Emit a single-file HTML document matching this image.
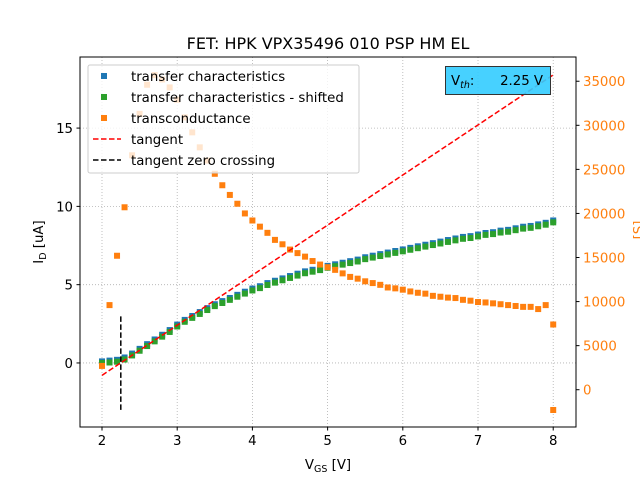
<!DOCTYPE html>
<html><head><meta charset="utf-8"><style>
html,body{margin:0;padding:0;background:#fff;}
svg{display:block;font-family:"DejaVu Sans","Liberation Sans",sans-serif;}
</style></head><body>
<svg id="chart" width="640" height="480" viewBox="0 0 640 480" xmlns="http://www.w3.org/2000/svg"></svg>
<script>
const vgs = [2.0,2.1,2.2,2.3,2.4,2.5,2.6,2.7,2.8,2.9,3.0,3.1,3.2,3.3,3.4,3.5,3.6,3.7,3.8,3.9,4.0,4.1,4.2,4.3,4.4,4.5,4.6,4.7,4.8,4.9,5.0,5.1,5.2,5.3,5.4,5.5,5.6,5.7,5.8,5.9,6.0,6.1,6.2,6.3,6.4,6.5,6.6,6.7,6.8,6.9,7.0,7.1,7.2,7.3,7.4,7.5,7.6,7.7,7.8,7.9,8.0];
const idTransfer = [0.1,0.15,0.2,0.35,0.6,0.9,1.2,1.5,1.8,2.1,2.45,2.75,3.0,3.25,3.5,3.75,3.95,4.15,4.35,4.55,4.75,4.9,5.1,5.25,5.4,5.55,5.7,5.85,5.95,6.05,6.2,6.3,6.4,6.5,6.6,6.75,6.85,6.95,7.05,7.15,7.25,7.35,7.45,7.55,7.65,7.75,7.85,7.95,8.05,8.1,8.2,8.3,8.35,8.45,8.5,8.6,8.7,8.75,8.85,8.95,9.1];
const idShifted = [0.0,0.03,0.08,0.22,0.48,0.78,1.08,1.38,1.68,1.98,2.33,2.63,2.88,3.13,3.38,3.63,3.83,4.03,4.23,4.43,4.63,4.78,4.98,5.13,5.28,5.43,5.58,5.73,5.83,5.93,6.08,6.18,6.28,6.38,6.48,6.63,6.73,6.83,6.93,7.03,7.13,7.23,7.33,7.43,7.53,7.63,7.73,7.83,7.93,7.98,8.08,8.18,8.23,8.33,8.38,8.48,8.58,8.63,8.73,8.83,8.98];
const gmX = [2.0,2.1,2.2,2.3,2.4,2.5,2.6,2.7,2.8,2.9,3.0,3.1,3.2,3.3,3.4,3.5,3.6,3.7,3.8,3.9,4.0,4.1,4.2,4.3,4.4,4.5,4.6,4.7,4.8,4.9,5.0,5.1,5.2,5.3,5.4,5.5,5.6,5.7,5.8,5.9,6.0,6.1,6.2,6.3,6.4,6.5,6.6,6.7,6.8,6.9,7.0,7.1,7.2,7.3,7.4,7.5,7.6,7.7,7.8,7.9,8.0,8.0];
const gmValues = [2700,9600,15200,20700,26600,31300,34600,35700,35200,34300,32900,30900,29200,27500,26000,24500,23200,22100,21100,20000,19200,18500,17800,17000,16500,15900,15500,15100,14600,14200,13900,13600,13200,12800,12600,12300,12100,11900,11600,11500,11350,11150,11000,10900,10650,10550,10450,10400,10200,10100,9950,9900,9800,9700,9600,9500,9400,9400,9150,9600,7400,-2300];
const tangentX = [2.0,8.0];
const tangentY = [-0.79,18.4];
const vth = 2.25;
const vthLine = [-3.0,3.05];
const xTicks = [2,3,4,5,6,7,8];
const yTicks = [0,5,10,15];
const y2Ticks = [0,5000,10000,15000,20000,25000,30000,35000];

const L=80,R=576,T=57,B=427;
const xMin=1.7075,xMax=8.303,yMin=-4.09,yMax=19.54,y2Min=-4230,y2Max=37750;
const sx=v=>L+(v-xMin)/(xMax-xMin)*(R-L);
const sy=v=>B-(v-yMin)/(yMax-yMin)*(B-T);
const sy2=v=>B-(v-y2Min)/(y2Max-y2Min)*(B-T);
const svg=document.getElementById('chart');
const NS='http://www.w3.org/2000/svg';
function mk(tag,attrs,parent,text){const e=document.createElementNS(NS,tag);for(const k in attrs)e.setAttribute(k,attrs[k]);if(text!==undefined)e.textContent=text;(parent||svg).appendChild(e);return e;}

const grid=mk('g',{});


xTicks.forEach(t=>mk('line',{x1:sx(t),x2:sx(t),y1:T,y2:B,stroke:'#b0b0b0','stroke-width':0.8,'stroke-dasharray':'1,2'},grid));
yTicks.forEach(t=>mk('line',{x1:L,x2:R,y1:sy(t),y2:sy(t),stroke:'#b0b0b0','stroke-width':0.8,'stroke-dasharray':'1,2'},grid));

function squares(xs,ys,scale,color,name){
  const g=mk('g',{});
  
  
  xs.forEach((x,i)=>{const r=mk('rect',{x:sx(x)-3,y:scale(ys[i])-3,width:6,height:6,fill:color},g);
    
    });
}
squares(vgs,idTransfer,sy,'#1f77b4','transfer-series');
squares(vgs,idShifted,sy,'#2ca02c','shifted-series');
squares(gmX,gmValues,sy2,'#ff7f0e','transconductance-series');

const tan=mk('line',{x1:sx(tangentX[0]),y1:sy(tangentY[0]),x2:sx(tangentX[1]),y2:sy(tangentY[1]),stroke:'#ff0000','stroke-width':1.5,'stroke-dasharray':'5.5,2.5'});


const zc=mk('line',{x1:sx(vth),y1:sy(vthLine[0]),x2:sx(vth),y2:sy(vthLine[1]),stroke:'#000','stroke-width':1.5,'stroke-dasharray':'5.5,2.5'});



const fr=mk('rect',{x:L,y:T,width:R-L,height:B-T,fill:'none',stroke:'#000','stroke-width':1});



xTicks.forEach(t=>{mk('line',{x1:sx(t),x2:sx(t),y1:B,y2:B+3.5,stroke:'#000'});
  const tx=mk('text',{x:sx(t),y:B+18,'text-anchor':'middle','font-size':13.3},svg,String(t));
  });
yTicks.forEach(t=>{mk('line',{x1:L-3.5,x2:L,y1:sy(t),y2:sy(t),stroke:'#000'});
  const tx=mk('text',{x:L-7,y:sy(t)+5,'text-anchor':'end','font-size':13.3},svg,String(t));
  });
y2Ticks.forEach(t=>{mk('line',{x1:R,x2:R+3.5,y1:sy2(t),y2:sy2(t),stroke:'#000'});
  const tx=mk('text',{x:R+7,y:sy2(t)+5,'text-anchor':'start','font-size':13.3,fill:'#ff7f0e'},svg,String(t));
  });

svg.insertAdjacentHTML('beforeend',`
<text x="328" y="49" text-anchor="middle" font-size="16">FET: HPK VPX35496 010 PSP HM EL</text>
<text x="328" y="469" text-anchor="middle" font-size="13.3">V<tspan font-size="9.5" dy="3">GS</tspan><tspan dy="-3"> [V]</tspan></text>
<text transform="translate(43,242) rotate(-90)" text-anchor="middle" font-size="13.3">I<tspan font-size="9.5" dy="3">D</tspan><tspan dy="-3"> [uA]</tspan></text>
<text transform="translate(643,230) rotate(-90)" text-anchor="middle" font-size="13.3" fill="#ff7f0e">[S]</text>
<g>
<rect x="88" y="65" width="271" height="108" rx="2" fill="#fff" fill-opacity="0.8" stroke="#ccc"/>
<rect x="101" y="73" width="6" height="6" fill="#1f77b4"/>
<text x="131" y="81" font-size="13.3">transfer characteristics</text>
<rect x="101" y="94" width="6" height="6" fill="#2ca02c"/>
<text x="131" y="102" font-size="13.3">transfer characteristics - shifted</text>
<rect x="101" y="115" width="6" height="6" fill="#ff7f0e"/>
<text x="131" y="123" font-size="13.3">transconductance</text>
<line x1="93" y1="139" x2="121" y2="139" stroke="#f00" stroke-width="1.5" stroke-dasharray="5.5,2.5"/>
<text x="131" y="144" font-size="13.3">tangent</text>
<line x1="93" y1="160" x2="121" y2="160" stroke="#000" stroke-width="1.5" stroke-dasharray="5.5,2.5"/>
<text x="131" y="165" font-size="13.3">tangent zero crossing</text>
</g>
<g>
<rect x="445.5" y="66.5" width="105" height="28" fill="#33ccff" fill-opacity="0.9" stroke="#333"/>
<text x="451" y="85" font-size="13.3">V<tspan font-size="9.5" font-style="italic" dy="3">th</tspan><tspan dy="-3">:</tspan></text>
<text x="543" y="85" font-size="13.3" text-anchor="end">2.25 V</text>
</g>`);
</script>
</body></html>
